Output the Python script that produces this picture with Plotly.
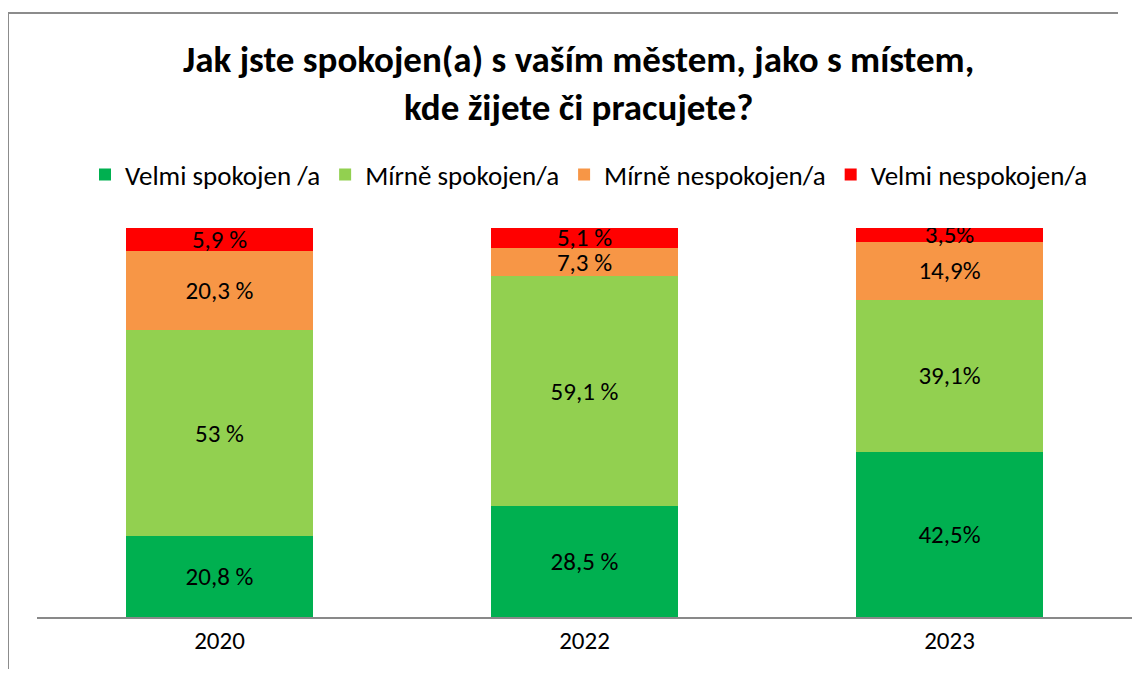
import plotly.graph_objects as go

years = ["2020", "2022", "2023"]
series_names = ["Velmi spokojen /a", "Mírně spokojen/a", "Mírně nespokojen/a", "Velmi nespokojen/a"]
velmi_spokojen = [20.8, 28.5, 42.5]
mirne_spokojen = [53.0, 59.1, 39.1]
mirne_nespokojen = [20.3, 7.3, 14.9]
velmi_nespokojen = [5.9, 5.1, 3.5]
labels_velmi_spokojen = ["20,8 %", "28,5 %", "42,5%"]
labels_mirne_spokojen = ["53 %", "59,1 %", "39,1%"]
labels_mirne_nespokojen = ["20,3 %", "7,3 %", "14,9%"]
labels_velmi_nespokojen = ["5,9 %", "5,1 %", "3,5%"]
colors = ["#00B050", "#92D050", "#F79646", "#FF0000"]
title_lines = ["Jak jste spokojen(a) s vaším městem, jako s místem,", "kde žijete či pracujete?"]

FONT = "Calibri, Carlito, Lato, sans-serif"
OFF = 8  # browser body margin

fig = go.Figure()
for name, vals, labs, col in zip(
    series_names,
    [velmi_spokojen, mirne_spokojen, mirne_nespokojen, velmi_nespokojen],
    [labels_velmi_spokojen, labels_mirne_spokojen, labels_mirne_nespokojen, labels_velmi_nespokojen],
    colors,
):
    fig.add_trace(go.Bar(
        x=years, y=vals, name=name, text=labs,
        marker=dict(color=col, line=dict(width=0)),
        textposition="inside", insidetextanchor="middle", textangle=0,
        textfont=dict(family=FONT, size=25, color="black"),
        hoverinfo="x+y+name",
    ))

W, H = 1147 - 2 * OFF, 678 - 2 * OFF
# target positions in screenshot pixels
ax_left, ax_right, ax_top, ax_bottom = 37, 1132, 228, 617
ml = ax_left - OFF
mr = W - (ax_right - OFF)
mt = ax_top - OFF
mb = H - (ax_bottom - OFF)
ph = H - mt - mb
pw = W - ml - mr

def px_x(x):
    return (x - OFF - ml) / pw

def px_y(y):
    return (ax_bottom - y) / ph

fig_right = OFF + W - 1
fig_bottom = OFF + H - 1

fig.update_layout(
    width=W, height=H,
    barmode="stack", bargap=0.49,
    margin=dict(l=ml, r=mr, t=mt, b=mb),
    paper_bgcolor="white", plot_bgcolor="white",
    font=dict(family=FONT, color="black"),
    uniformtext=dict(minsize=25, mode="show"),
    showlegend=True,
    legend=dict(
        orientation="h", x=px_x(589), xanchor="center", y=px_y(175), yanchor="middle",
        font=dict(family=FONT, size=27, color="black"), traceorder="normal",
        bgcolor="rgba(0,0,0,0)",
    ),
    xaxis=dict(
        showline=True, linecolor="#898989", linewidth=2, ticks="",
        tickfont=dict(family=FONT, size=25, color="black"), showgrid=False,
    ),
    yaxis=dict(range=[0, 100], visible=False, showgrid=False),
    annotations=[
        dict(text="<b>%s</b>" % "<br>".join(title_lines), x=px_x(578), y=px_y(83), xref="paper", yref="paper",
             xanchor="center", yanchor="middle", showarrow=False,
             font=dict(family=FONT, size=37, color="black")),
    ],
    shapes=[
        dict(type="line", xref="paper", yref="paper", x0=px_x(8), x1=px_x(8), y0=px_y(13), y1=px_y(fig_bottom),
             line=dict(color="#8c8c8c", width=2)),
        dict(type="line", xref="paper", yref="paper", x0=px_x(8), x1=px_x(fig_right - 20), y0=px_y(13), y1=px_y(13),
             line=dict(color="#8c8c8c", width=2)),
    ],
)

fig.write_html(
    "out.html",
    config={"displayModeBar": False},
    post_script="document.documentElement.style.overflow='hidden';document.body.style.overflow='hidden';",
)
